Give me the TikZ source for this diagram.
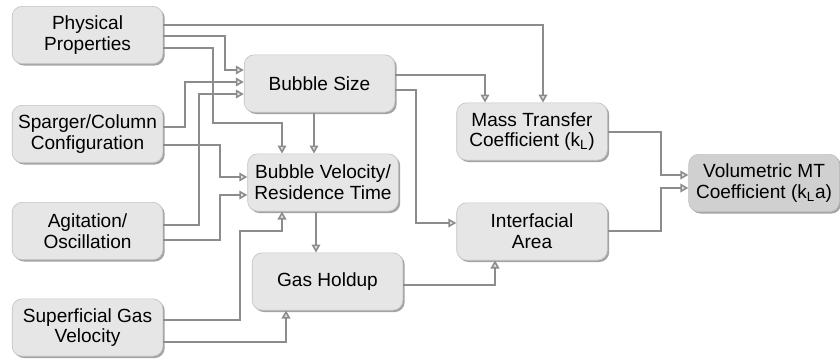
\documentclass[tikz,border=0pt]{standalone}
\usepackage{fontspec}
\setmainfont{Liberation Sans}
\usetikzlibrary{arrows.meta,shadows}
\definecolor{linegray}{HTML}{8C8C8C}
\definecolor{boxfill}{HTML}{E6E6E6}
\definecolor{boxdark}{HTML}{D0D0D0}
\definecolor{boxline}{HTML}{C4C4C4}
\tikzset{
  box/.style={draw=boxline, line width=0.5pt, fill=boxfill, rounded corners=7.5pt,
    minimum width=113pt, minimum height=43pt, inner sep=0pt, align=center,
    font=\fontsize{14.3}{15.5}\selectfont,
    drop shadow={shadow xshift=1.4pt, shadow yshift=-1.4pt, fill=black!45, opacity=0.8}},
  darkbox/.style={box, fill=boxdark},
  conn/.style={draw=linegray, line width=1.5pt,
    -{Triangle[open, length=6pt, width=6.5pt, line width=1.2pt, fill=boxfill]}},
}
\begin{document}
\begin{tikzpicture}[x=0.75pt,y=-0.75pt]
\useasboundingbox (0,0) rectangle (840,362);
% left column
\node[box] (pp) at (87.5,35) {Physical\\Properties};
\node[box] (sc) at (87.5,134) {Sparger/Column\\Configuration};
\node[box] (ag) at (87.5,231) {Agitation/\\Oscillation};
\node[box] (sg) at (87.5,327.5) {Superficial Gas\\Velocity};
% middle column
\node[box] (bs) at (319.5,83.5) {Bubble Size};
\node[box] (bv) at (323,182.5) {Bubble Velocity/\\Residence Time};
\node[box] (gh) at (327.5,281.5) {Gas Holdup};
% right
\node[box] (mt) at (532,131.5) {Mass Transfer\\Coefficient (k\textsubscript{L})};
\node[box] (ia) at (532,231.5) {Interfacial\\Area};
\node[darkbox] (vm) at (764,183) {Volumetric MT\\Coefficient (k\textsubscript{L}a)};
% connectors
\draw[conn] (pp.east |- 0,25) -| (543,0 |- mt.north);
\draw[conn] (pp.east |- 0,36) -| (225,70) -- (bs.west |- 0,70);
\draw[conn] (pp.east |- 0,48) -| (213,123) -| (282,0 |- bv.north);
\draw[conn] (sc.east |- 0,127) -| (185,82) -- (bs.west |- 0,82);
\draw[conn] (ag.east |- 0,225) -| (199,94) -- (bs.west |- 0,94);
\draw[conn] (sc.east |- 0,145) -| (220,177) -- (bv.west |- 0,177);
\draw[conn] (ag.east |- 0,240) -| (220,195) -- (bv.west |- 0,195);
\draw[conn] (sg.east |- 0,320) -| (240,231) -| (282,0 |- bv.south);
\draw[conn] (sg.east |- 0,342) -| (286,0 |- gh.south);
\draw[conn] (314,0 |- bs.south) -- (314,0 |- bv.north);
\draw[conn] (316,0 |- bv.south) -- (316,0 |- gh.north);
\draw[conn] (bs.east |- 0,75) -| (485,0 |- mt.north);
\draw[conn] (bs.east |- 0,90) -| (416,223) -- (ia.west |- 0,223);
\draw[conn] (gh.east |- 0,285) -| (495,0 |- ia.south);
\draw[conn] (mt.east |- 0,132) -| (661,175) -- (vm.west |- 0,175);
\draw[conn] (ia.east |- 0,231) -| (661,188) -- (vm.west |- 0,188);
\end{tikzpicture}
\end{document}
